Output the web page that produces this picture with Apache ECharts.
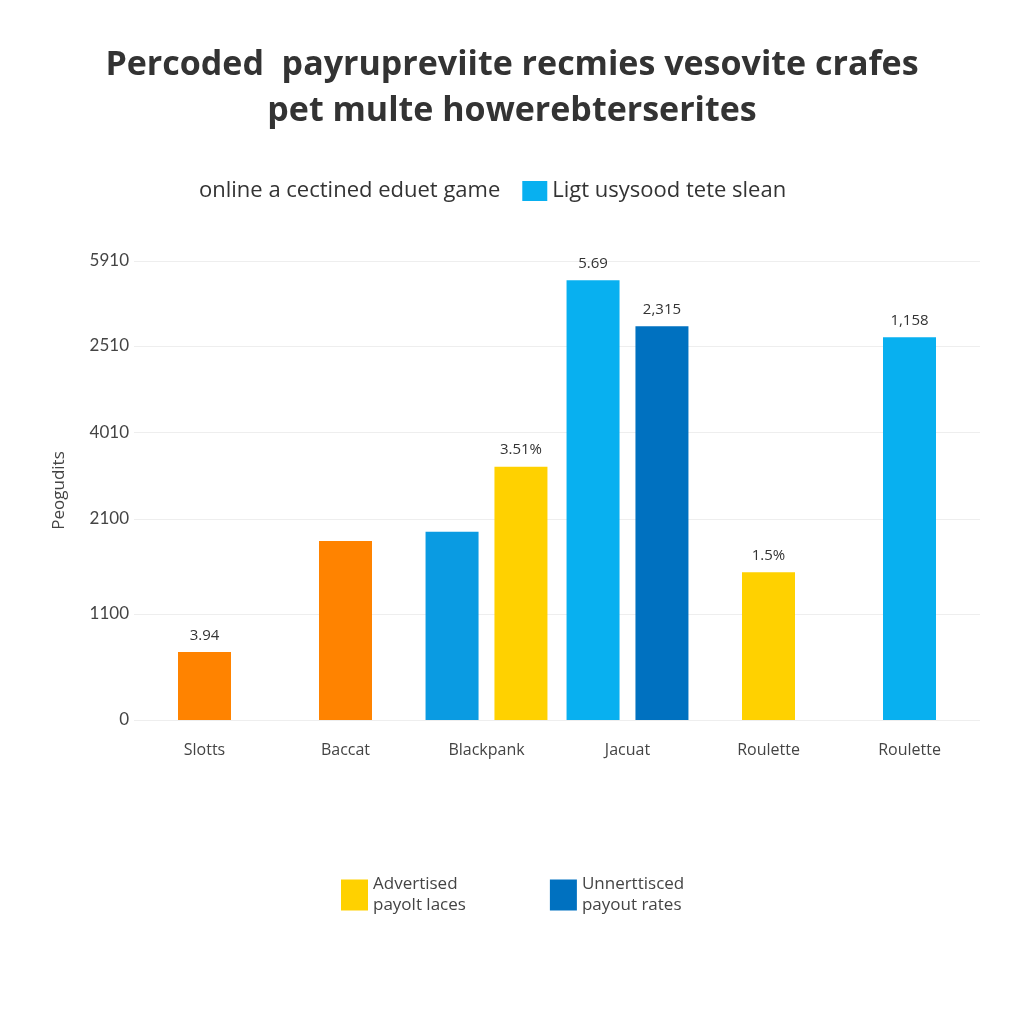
<!DOCTYPE html>
<html>
<head>
<meta charset="utf-8">
<script src="https://cdn.jsdelivr.net/npm/echarts@6/dist/echarts.min.js"></script>
<style>
  html, body { margin: 0; padding: 0; background: #fff; }
  #chart { width: 1024px; height: 1024px; }
</style>
</head>
<body>
<div id="chart"></div>
<script>
// categories (x axis)
var categories = ['Slotts', 'Baccat', 'Blackpank', 'Jacuat', 'Roulette', 'Roulette'];

// y axis: tick positions (axis units) and their printed labels
var yTickValues = [0, 1.155, 2.19, 3.137, 4.074, 5];
var yTickLabels = ['0', '1100', '2100', '4010', '2510', '5910'];

// series names
var nameOrange = 'online a cectined eduet game';
var nameLight = 'Ligt usysood tete slean';
var nameYellow = 'Advertised payolt laces';
var nameDark = 'Unnerttisced payout rates';

// bar heights, axis units (paired bars)
var pairLeft = [null, null, 2.05, 4.79, null, null];
var pairRightYellow = [null, null, 2.76, null, null, null];
var pairRightDark = [null, null, null, 4.29, null, null];
// bar heights, single bars
var singleOrange = [0.74, 1.95, null, null, null, null];
var singleYellow = [null, null, null, null, 1.61, null];
var singleLight = [null, null, null, null, null, 4.17];

// value labels printed above bars
var lblPairLeft = ['', '', '', '5.69', '', ''];
var lblPairRightYellow = ['', '', '3.51%', '', '', ''];
var lblPairRightDark = ['', '', '', '2,315', '', ''];
var lblSingleOrange = ['3.94', '', '', '', '', ''];
var lblSingleYellow = ['', '', '', '', '1.5%', ''];
var lblSingleLight = ['', '', '', '', '', '1,158'];

var legendText = {};
legendText[nameOrange] = nameOrange;
legendText[nameLight] = nameLight;
legendText[nameYellow] = 'Advertised\npayolt laces';
legendText[nameDark] = 'Unnerttisced\npayout rates';

var C_ORANGE = '#ff8300';
var C_LIGHT = '#08b0f0';
var C_MID = '#0a9be2';
var C_YELLOW = '#ffd100';
var C_DARK = '#0071c0';
var FONT = '"Open Sans", sans-serif';

function barLabel(arr) {
    return {
        show: true,
        position: 'top',
        distance: 9,
        color: '#333',
        fontSize: 15,
        fontFamily: FONT,
        formatter: function (p) { return arr[p.dataIndex] || ''; }
    };
}

var myChart = echarts.init(document.getElementById('chart'));
var option = {
    backgroundColor: '#fff',
    title: {
        text: 'Percoded  payrupreviite recmies vesovite crafes\npet multe howerebterserites',
        left: 'center',
        top: 37,
        textStyle: {
            fontSize: 34,
            fontWeight: 'bold',
            color: '#333',
            lineHeight: 46,
            fontFamily: '"Open Sans", sans-serif'
        }
    },
    legend: [
        {
            left: 164,
            top: 175,
            itemWidth: 25,
            itemHeight: 20,
            itemGap: 22,
            selectedMode: false,
            textStyle: { fontSize: 22, color: '#333', fontFamily: FONT },
            data: [
                { name: nameOrange, icon: 'rect', itemStyle: { opacity: 0 } },
                { name: nameLight, icon: 'rect' }
            ]
        },
        {
            left: 336,
            top: 869,
            itemWidth: 27,
            itemHeight: 31,
            itemGap: 84,
            selectedMode: false,
            textStyle: { fontSize: 17, color: '#444', lineHeight: 21, fontFamily: FONT },
            formatter: function (n) { return legendText[n]; },
            data: [
                { name: nameYellow, icon: 'rect' },
                { name: nameDark, icon: 'rect' }
            ]
        }
    ],
    grid: { left: 134, right: 44, top: 261, bottom: 304 },
    xAxis: [
        {
            type: 'category',
            data: categories,
            axisLine: { show: false },
            axisTick: { show: false },
            axisLabel: { margin: 22, fontSize: 16, color: '#444', fontFamily: FONT }
        },
        {
            type: 'category',
            data: categories,
            show: false
        }
    ],
    yAxis: {
        type: 'value',
        min: 0,
        max: 5,
        name: 'Peogudits',
        nameLocation: 'middle',
        nameGap: 66,
        nameTextStyle: { fontSize: 17, color: '#444', fontFamily: FONT },
        axisLine: { show: false },
        axisTick: { show: false, customValues: yTickValues },
        splitLine: { lineStyle: { color: '#eeeeee' } },
        axisLabel: {
            customValues: yTickValues,
            margin: 5,
            fontSize: 17,
            color: '#444',
            fontFamily: 'Lato, sans-serif',
            formatter: function (v) {
                for (var i = 0; i < yTickValues.length; i++) {
                    if (Math.abs(yTickValues[i] - v) < 1e-6) return yTickLabels[i];
                }
                return '';
            }
        }
    },
    series: [
        {
            name: nameLight, type: 'bar', xAxisIndex: 0, stack: 'L',
            barWidth: 53, barGap: '30%',
            data: pairLeft.map(function (v, i) {
                return i === 2 ? { value: v, itemStyle: { color: C_MID } } : v;
            }),
            itemStyle: { color: C_LIGHT },
            label: barLabel(lblPairLeft)
        },
        {
            name: nameYellow, type: 'bar', xAxisIndex: 0, stack: 'R',
            barWidth: 53, barGap: '30%',
            data: pairRightYellow,
            itemStyle: { color: C_YELLOW },
            label: barLabel(lblPairRightYellow)
        },
        {
            name: nameDark, type: 'bar', xAxisIndex: 0, stack: 'R',
            barWidth: 53, barGap: '30%',
            data: pairRightDark,
            itemStyle: { color: C_DARK },
            label: barLabel(lblPairRightDark)
        },
        {
            name: nameOrange, type: 'bar', xAxisIndex: 1, stack: 'S',
            barWidth: 53,
            data: singleOrange,
            itemStyle: { color: C_ORANGE },
            label: barLabel(lblSingleOrange)
        },
        {
            name: nameYellow, type: 'bar', xAxisIndex: 1, stack: 'S',
            barWidth: 53,
            data: singleYellow,
            itemStyle: { color: C_YELLOW },
            label: barLabel(lblSingleYellow)
        },
        {
            name: nameLight, type: 'bar', xAxisIndex: 1, stack: 'S',
            barWidth: 53,
            data: singleLight,
            itemStyle: { color: C_LIGHT },
            label: barLabel(lblSingleLight)
        }
    ]
};
myChart.setOption(option);
</script>
</body>
</html>
